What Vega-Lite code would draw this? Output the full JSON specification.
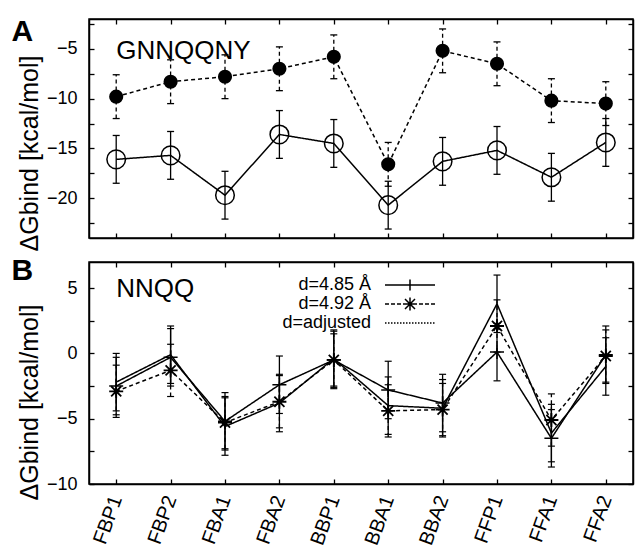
{
  "$schema": "https://vega.github.io/schema/vega-lite/v6.json",
  "autosize": {"type": "pad"},
  "padding": {"left": 10, "top": 14, "right": 0, "bottom": 0},
  "datasets": {
    "A": [
      {"cat": "FBP1", "s": "open", "v": -16.1, "lo": -18.5, "hi": -13.7},
      {"cat": "FBP2", "s": "open", "v": -15.7, "lo": -18.1, "hi": -13.3},
      {"cat": "FBA1", "s": "open", "v": -19.7, "lo": -22.1, "hi": -17.3},
      {"cat": "FBA2", "s": "open", "v": -13.6, "lo": -16.0, "hi": -11.2},
      {"cat": "BBP1", "s": "open", "v": -14.5, "lo": -16.9, "hi": -12.1},
      {"cat": "BBA1", "s": "open", "v": -20.7, "lo": -23.1, "hi": -18.3},
      {"cat": "BBA2", "s": "open", "v": -16.3, "lo": -18.7, "hi": -13.9},
      {"cat": "FFP1", "s": "open", "v": -15.2, "lo": -17.6, "hi": -12.8},
      {"cat": "FFA1", "s": "open", "v": -17.9, "lo": -20.3, "hi": -15.5},
      {"cat": "FFA2", "s": "open", "v": -14.4, "lo": -16.8, "hi": -12.0},
      {"cat": "FBP1", "s": "filled", "v": -9.8, "lo": -12.0, "hi": -7.6},
      {"cat": "FBP2", "s": "filled", "v": -8.3, "lo": -10.5, "hi": -6.1},
      {"cat": "FBA1", "s": "filled", "v": -7.8, "lo": -10.0, "hi": -5.6},
      {"cat": "FBA2", "s": "filled", "v": -7.0, "lo": -9.2, "hi": -4.8},
      {"cat": "BBP1", "s": "filled", "v": -5.8, "lo": -8.0, "hi": -3.6},
      {"cat": "BBA1", "s": "filled", "v": -16.6, "lo": -18.8, "hi": -14.4},
      {"cat": "BBA2", "s": "filled", "v": -5.2, "lo": -7.4, "hi": -3.0},
      {"cat": "FFP1", "s": "filled", "v": -6.5, "lo": -8.7, "hi": -4.3},
      {"cat": "FFA1", "s": "filled", "v": -10.2, "lo": -12.4, "hi": -8.0},
      {"cat": "FFA2", "s": "filled", "v": -10.5, "lo": -12.7, "hi": -8.3}
    ],
    "B": [
      {"cat": "FBP1", "s": "d=4.85 Å", "v": -2.5, "lo": -4.7, "hi": -0.3},
      {"cat": "FBP2", "s": "d=4.85 Å", "v": -0.3, "lo": -2.5, "hi": 1.9},
      {"cat": "FBA1", "s": "d=4.85 Å", "v": -5.2, "lo": -7.4, "hi": -3.0},
      {"cat": "FBA2", "s": "d=4.85 Å", "v": -2.4, "lo": -4.6, "hi": -0.2},
      {"cat": "BBP1", "s": "d=4.85 Å", "v": -0.5, "lo": -2.7, "hi": 1.7},
      {"cat": "BBA1", "s": "d=4.85 Å", "v": -2.8, "lo": -5.0, "hi": -0.6},
      {"cat": "BBA2", "s": "d=4.85 Å", "v": -3.8, "lo": -6.0, "hi": -1.6},
      {"cat": "FFP1", "s": "d=4.85 Å", "v": 0.1, "lo": -2.1, "hi": 2.3},
      {"cat": "FFA1", "s": "d=4.85 Å", "v": -6.5, "lo": -8.7, "hi": -4.3},
      {"cat": "FFA2", "s": "d=4.85 Å", "v": -0.1, "lo": -2.3, "hi": 2.1},
      {"cat": "FBP1", "s": "d=4.92 Å", "v": -2.9, "lo": -4.9, "hi": -0.9},
      {"cat": "FBP2", "s": "d=4.92 Å", "v": -1.3, "lo": -3.3, "hi": 0.7},
      {"cat": "FBA1", "s": "d=4.92 Å", "v": -5.3, "lo": -7.3, "hi": -3.3},
      {"cat": "FBA2", "s": "d=4.92 Å", "v": -3.7, "lo": -5.7, "hi": -1.7},
      {"cat": "BBP1", "s": "d=4.92 Å", "v": -0.5, "lo": -2.5, "hi": 1.5},
      {"cat": "BBA1", "s": "d=4.92 Å", "v": -4.4, "lo": -6.4, "hi": -2.4},
      {"cat": "BBA2", "s": "d=4.92 Å", "v": -4.3, "lo": -6.3, "hi": -2.3},
      {"cat": "FFP1", "s": "d=4.92 Å", "v": 2.1, "lo": 0.1, "hi": 4.1},
      {"cat": "FFA1", "s": "d=4.92 Å", "v": -5.1, "lo": -7.1, "hi": -3.1},
      {"cat": "FFA2", "s": "d=4.92 Å", "v": -0.2, "lo": -2.2, "hi": 1.8},
      {"cat": "FBP1", "s": "d=adjusted", "v": -2.2, "lo": -4.4, "hi": 0.0},
      {"cat": "FBP2", "s": "d=adjusted", "v": -0.1, "lo": -2.3, "hi": 2.1},
      {"cat": "FBA1", "s": "d=adjusted", "v": -5.6, "lo": -7.8, "hi": -3.4},
      {"cat": "FBA2", "s": "d=adjusted", "v": -3.8, "lo": -6.0, "hi": -1.6},
      {"cat": "BBP1", "s": "d=adjusted", "v": -0.4, "lo": -2.6, "hi": 1.8},
      {"cat": "BBA1", "s": "d=adjusted", "v": -4.0, "lo": -6.2, "hi": -1.8},
      {"cat": "BBA2", "s": "d=adjusted", "v": -4.2, "lo": -6.4, "hi": -2.0},
      {"cat": "FFP1", "s": "d=adjusted", "v": 3.8, "lo": 1.6, "hi": 6.0},
      {"cat": "FFA1", "s": "d=adjusted", "v": -6.1, "lo": -8.3, "hi": -3.9},
      {"cat": "FFA2", "s": "d=adjusted", "v": -1.0, "lo": -3.2, "hi": 1.2}
    ],
    "labels": [
      {"p": "A", "cat": "FBP1", "v": -6.0, "t": "GNNQQNY"},
      {"p": "B", "cat": "FBP1", "v": 4.3, "t": "NNQQ"}
    ]
  },
  "spacing": 2,
  "vconcat": [
    {
      "width": 544,
      "height": 219,
      "data": {"name": "A"},
      "resolve": {"axis": {"x": "independent", "y": "independent"}},
      "layer": [
        {
          "mark": {"type": "line", "strokeWidth": 1.5, "color": "black"},
          "encoding": {
            "x": {"field": "cat", "type": "nominal", "sort": null,
                  "scale": {"type": "point", "padding": 0.5, "domain": ["FBP1","FBP2","FBA1","FBA2","BBP1","BBA1","BBA2","FFP1","FFA1","FFA2"]},
                  "axis": {"orient": "bottom", "labels": false, "title": null}},
            "y": {"field": "v", "type": "quantitative",
                  "scale": {"domain": [-24, -2], "nice": false, "zero": false},
                  "axis": {"orient": "left", "values": [-22.5,-20,-17.5,-15,-12.5,-10,-7.5,-5,-2.5], "labelExpr": "datum.value % 5 === 0 ? datum.label : ''", "title": "ΔGbind [kcal/mol]", "titleY": 134}},
            "strokeDash": {"field": "s", "type": "nominal", "scale": {"domain": ["open", "filled"], "range": [[1, 0], [4, 3]]}, "legend": null}
          }
        },
        {
          "mark": {"type": "rule", "strokeWidth": 1.3, "color": "black"},
          "encoding": {
            "x": {"field": "cat", "type": "nominal", "sort": null, "axis": {"orient": "top", "labels": false, "title": null}},
            "y": {"field": "lo", "type": "quantitative", "axis": {"orient": "right", "labels": false, "title": null, "values": [-22.5,-20,-17.5,-15,-12.5,-10,-7.5,-5,-2.5]}},
            "y2": {"field": "hi"},
            "strokeDash": {"field": "s", "type": "nominal", "legend": null}
          }
        },
        {
          "mark": {"type": "tick", "size": 7, "thickness": 1.3, "color": "black", "opacity": 1},
          "encoding": {
            "x": {"field": "cat", "type": "nominal", "sort": null, "axis": null},
            "y": {"field": "lo", "type": "quantitative",
                  "axis": {"orient": "left", "labels": false, "ticks": false, "domain": false, "title": "A", "titleAngle": 0, "titleX": -78, "titleY": 21, "titleAlign": "left", "titleBaseline": "alphabetic", "titleFontSize": 30, "titleFontWeight": "bold"}}
          }
        },
        {
          "mark": {"type": "tick", "size": 7, "thickness": 1.3, "color": "black", "opacity": 1},
          "encoding": {
            "x": {"field": "cat", "type": "nominal", "sort": null, "axis": null},
            "y": {"field": "hi", "type": "quantitative", "axis": null}
          }
        },
        {
          "transform": [{"filter": "datum.s === 'open'"}],
          "mark": {"type": "point", "shape": "circle", "filled": false, "size": 346, "strokeWidth": 1.5, "color": "black", "opacity": 1},
          "encoding": {
            "x": {"field": "cat", "type": "nominal", "sort": null, "axis": null},
            "y": {"field": "v", "type": "quantitative", "axis": null}
          }
        },
        {
          "transform": [{"filter": "datum.s === 'filled'"}],
          "mark": {"type": "point", "shape": "circle", "filled": true, "size": 200, "color": "black", "opacity": 1},
          "encoding": {
            "x": {"field": "cat", "type": "nominal", "sort": null, "axis": null},
            "y": {"field": "v", "type": "quantitative", "axis": null}
          }
        },
        {
          "data": {"name": "labels"},
          "transform": [{"filter": "datum.p === 'A'"}],
          "mark": {"type": "text", "align": "left", "baseline": "alphabetic", "fontSize": 26, "font": "Liberation Sans", "color": "black"},
          "encoding": {
            "x": {"field": "cat", "type": "nominal", "sort": null, "axis": null},
            "y": {"field": "v", "type": "quantitative", "axis": null},
            "text": {"field": "t"}
          }
        }
      ]
    },
    {
      "width": 544,
      "height": 222,
      "data": {"name": "B"},
      "resolve": {"axis": {"x": "independent", "y": "independent"}, "scale": {"shape": "independent"}},
      "layer": [
        {
          "mark": {"type": "line", "strokeWidth": 1.5, "color": "black"},
          "encoding": {
            "x": {"field": "cat", "type": "nominal", "sort": null,
                  "scale": {"type": "point", "padding": 0.5, "domain": ["FBP1","FBP2","FBA1","FBA2","BBP1","BBA1","BBA2","FFP1","FFA1","FFA2"]},
                  "axis": {"orient": "bottom", "title": null, "labelAngle": -70, "labelAlign": "right", "labelBaseline": "middle", "labelFontSize": 20, "labelPadding": 17}},
            "y": {"field": "v", "type": "quantitative",
                  "scale": {"domain": [-10, 7], "nice": false, "zero": false},
                  "axis": {"orient": "left", "values": [-10,-7.5,-5,-2.5,0,2.5,5], "labelExpr": "datum.value % 5 === 0 ? datum.label : ''", "title": "ΔGbind [kcal/mol]", "titleY": 140}},
            "strokeDash": {"field": "s", "type": "nominal", "scale": {"domain": ["d=4.85 Å", "d=4.92 Å", "d=adjusted"], "range": [[1, 0], [4, 3], [1.5, 2]]}, "legend": null}
          }
        },
        {
          "mark": {"type": "rule", "strokeWidth": 1.3, "color": "black"},
          "encoding": {
            "x": {"field": "cat", "type": "nominal", "sort": null, "axis": {"orient": "top", "labels": false, "title": null}},
            "y": {"field": "lo", "type": "quantitative", "axis": {"orient": "right", "labels": false, "title": null, "values": [-10,-7.5,-5,-2.5,0,2.5,5]}},
            "y2": {"field": "hi"},
            "strokeDash": {"field": "s", "type": "nominal", "legend": null}
          }
        },
        {
          "mark": {"type": "tick", "size": 7, "thickness": 1.2, "color": "black", "opacity": 1},
          "encoding": {
            "x": {"field": "cat", "type": "nominal", "sort": null, "axis": null},
            "y": {"field": "lo", "type": "quantitative",
                  "axis": {"orient": "left", "labels": false, "ticks": false, "domain": false, "title": "B", "titleAngle": 0, "titleX": -78, "titleY": 17, "titleAlign": "left", "titleBaseline": "alphabetic", "titleFontSize": 30, "titleFontWeight": "bold"}}
          }
        },
        {
          "mark": {"type": "tick", "size": 7, "thickness": 1.2, "color": "black", "opacity": 1},
          "encoding": {
            "x": {"field": "cat", "type": "nominal", "sort": null, "axis": null},
            "y": {"field": "hi", "type": "quantitative", "axis": null}
          }
        },
        {
          "transform": [{"filter": "datum.s === 'd=4.85 Å'"}],
          "mark": {"type": "point", "shape": "M-1,0H1M0,-1V1", "filled": false, "size": 196, "strokeWidth": 1.5, "color": "black", "opacity": 1},
          "encoding": {
            "x": {"field": "cat", "type": "nominal", "sort": null, "axis": null},
            "y": {"field": "v", "type": "quantitative", "axis": null}
          }
        },
        {
          "transform": [{"filter": "datum.s === 'd=4.92 Å'"}],
          "mark": {"type": "point", "shape": "M-1,0H1M0,-1V1M-0.72,-0.72L0.72,0.72M-0.72,0.72L0.72,-0.72", "filled": false, "size": 196, "strokeWidth": 1.8, "color": "black", "opacity": 1},
          "encoding": {
            "x": {"field": "cat", "type": "nominal", "sort": null, "axis": null},
            "y": {"field": "v", "type": "quantitative", "axis": null}
          }
        },
        {
          "mark": {"type": "point", "filled": false, "size": 100, "strokeWidth": 1.5, "color": "black", "opacity": 0},
          "encoding": {
            "x": {"field": "cat", "type": "nominal", "sort": null, "axis": null},
            "y": {"field": "v", "type": "quantitative", "axis": null},
            "shape": {"field": "s", "type": "nominal",
                      "scale": {"domain": ["d=4.85 Å", "d=4.92 Å", "d=adjusted"],
                                "range": ["M-5,0H5M0,-1.1V1.1",
                                          "M-5,0H-4.2M-3.8,0H-3M-2.6,0H-1.8M-1.4,0H1.4M0,-1.3V1.3M-1,-1L1,1M-1,1L1,-1M1.8,0H2.6M3,0H3.8M4.2,0H5",
                                          "M-5,0H-4.7M-4.4,0H-4.1M-3.8,0H-3.5M-3.2,0H-2.9M-2.6,0H-2.3M-2,0H-1.7M-1.4,0H-1.1M-0.8,0H-0.5M-0.2,0H0.1M0.4,0H0.7M1,0H1.3M1.6,0H1.9M2.2,0H2.5M2.8,0H3.1M3.4,0H3.7M4,0H4.3M4.6,0H4.9"]},
                      "legend": {"title": null, "orient": "none", "legendX": 312, "legendY": 14, "padding": 0,
                                 "symbolSize": 100, "symbolStrokeWidth": 1.5, "symbolStrokeColor": "black", "symbolFillColor": "transparent", "symbolOpacity": 1,
                                 "labelFontSize": 18, "labelFont": "Liberation Sans", "labelColor": "black", "labelAlign": "right", "labelOffset": -48, "rowPadding": 0}}
          }
        },
        {
          "data": {"name": "labels"},
          "transform": [{"filter": "datum.p === 'B'"}],
          "mark": {"type": "text", "align": "left", "baseline": "alphabetic", "fontSize": 26, "font": "Liberation Sans", "color": "black"},
          "encoding": {
            "x": {"field": "cat", "type": "nominal", "sort": null, "axis": null},
            "y": {"field": "v", "type": "quantitative", "axis": null},
            "text": {"field": "t"}
          }
        }
      ]
    }
  ],
  "config": {
    "font": "Liberation Sans",
    "view": {"stroke": "black", "strokeWidth": 1.5},
    "axis": {"domainColor": "black", "domainWidth": 1.5, "tickColor": "black", "tickWidth": 1.3, "tickSize": -5, "labelPadding": 17, "labelColor": "black", "labelFont": "Liberation Sans", "labelFontSize": 18, "labelOverlap": false, "grid": false, "titleFont": "Liberation Sans", "titleFontSize": 25, "titleFontWeight": "normal", "titleColor": "black", "titlePadding": 4}
  }
}
